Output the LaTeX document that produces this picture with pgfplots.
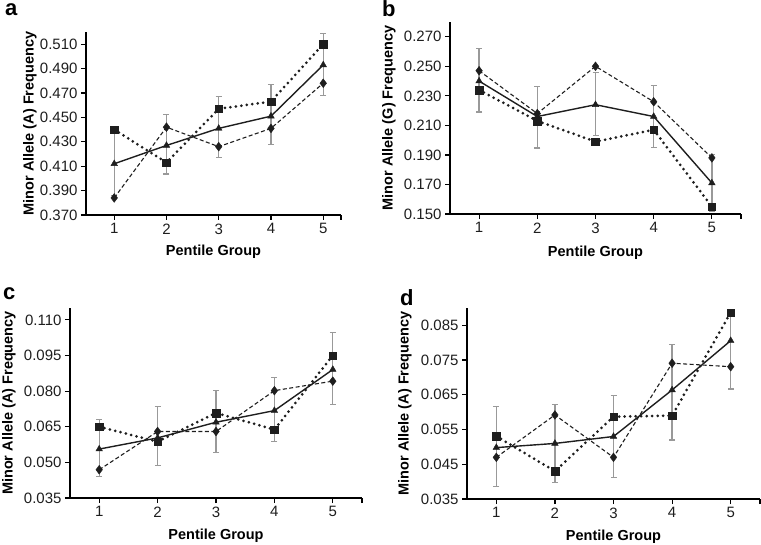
\documentclass[border=0pt]{standalone}
\usepackage{fontspec}
\setmainfont{Liberation Sans}
\usepackage{pgfplots}
\pgfplotsset{compat=1.18}
\definecolor{errgray}{HTML}{999999}
\definecolor{ln}{HTML}{1E1E1E}
\pgfplotsset{
  panel/.style={
    scale only axis, anchor=south west,
    axis lines=left, axis line style={-, line width=1.8pt, black},
    tick align=outside, major tick length=5pt,
    tick style={line width=1.2pt, black},
    xtick={1,2,3,4,5},
    scaled y ticks=false,
    ticklabel style={font=\fontsize{15}{17}\selectfont, text=ln},
    y tick label style={/pgf/number format/.cd, fixed, fixed zerofill, precision=3, assume math mode=true},
    x tick label style={/pgf/number format/assume math mode=true},
    xlabel={Pentile Group},
    xlabel style={font=\bfseries\fontsize{14.5}{16}\selectfont, at={(axis description cs:0.5,-0.2)}, anchor=center},
    ylabel style={font=\bfseries\fontsize{14.5}{16}\selectfont, anchor=center},
    clip=false,
  },
  errp/.style={draw=none, mark=none, forget plot,
    error bars/.cd, y dir=both, y explicit,
    error bar style={draw=errgray, line width=1.3pt, solid},
    error mark options={rotate=90, draw=errgray, mark size=3pt, line width=1.2pt}},
  sq/.style={ln, line width=3pt, dash pattern=on 0pt off 5.5pt, line cap=round,
    mark=square*, mark size=3.8pt, mark options={solid, fill=ln, draw=ln, line width=0.4pt}},
  di/.style={ln, line width=1.1pt, dash pattern=on 4pt off 2.5pt,
    mark=diamond*, mark size=4.4pt, mark options={solid, fill=ln, draw=ln, line width=0.4pt}},
  tr/.style={ln, line width=1.4pt, solid,
    mark=triangle*, mark size=3.8pt, mark options={solid, fill=ln, draw=ln, line width=0.4pt}},
}
\begin{document}
\begin{tikzpicture}
\useasboundingbox (0,0) rectangle (761pt,544pt);
% ---------- a ----------
\begin{axis}[panel, at={(86pt,329pt)}, width=255pt, height=183pt,
  xmin=0.46, xmax=5.34, ymin=0.370, ymax=0.520,
  ytick={0.370,0.390,0.410,0.430,0.450,0.470,0.490,0.510},
  extra x ticks={5.34}, extra x tick labels={},
  ylabel={Minor Allele (A) Frequency},
  ylabel style={at={(axis description cs:-0.22,0.5)}}]
\addplot[errp] coordinates {
 (1,0.412) += (0,0.028) -= (0,0.026)
 (2,0.427) += (0,0.0255) -= (0,0.0234)
 (3,0.441) += (0,0.026) -= (0,0.024)
 (4,0.451) += (0,0.026) -= (0,0.023)
 (5,0.493) += (0,0.026) -= (0,0.025)};
\addplot[sq] coordinates {(1,0.440)(2,0.413)(3,0.457)(4,0.463)(5,0.510)};
\addplot[di] coordinates {(1,0.384)(2,0.442)(3,0.426)(4,0.441)(5,0.478)};
\addplot[tr] coordinates {(1,0.412)(2,0.427)(3,0.441)(4,0.451)(5,0.493)};
\end{axis}
% ---------- b ----------
\begin{axis}[panel, at={(450pt,330pt)}, width=291pt, height=192pt,
  xmin=0.5, xmax=5.5, ymin=0.150, ymax=0.280,
  ytick={0.150,0.170,0.190,0.210,0.230,0.250,0.270},
  extra x ticks={5.5}, extra x tick labels={},
  ylabel={Minor Allele (G) Frequency},
  ylabel style={at={(axis description cs:-0.21,0.5)}}]
\addplot[errp] coordinates {
 (1,0.240) += (0,0.022) -= (0,0.021)
 (2,0.216) += (0,0.0205) -= (0,0.0213)
 (3,0.224) += (0,0.0216) -= (0,0.0207)
 (4,0.216) += (0,0.0208) -= (0,0.0209)
 (5,0.171) += (0,0.0195) -= (0,0.0195)};
\addplot[sq] coordinates {(1,0.234)(2,0.213)(3,0.199)(4,0.207)(5,0.155)};
\addplot[di] coordinates {(1,0.247)(2,0.218)(3,0.250)(4,0.226)(5,0.188)};
\addplot[tr] coordinates {(1,0.240)(2,0.216)(3,0.224)(4,0.216)(5,0.171)};
\end{axis}
% ---------- c ----------
\begin{axis}[panel, at={(70pt,46pt)}, width=292pt, height=190pt,
  xmin=0.5, xmax=5.5, ymin=0.035, ymax=0.115,
  ytick={0.035,0.050,0.065,0.080,0.095,0.110},
  extra x ticks={5.5}, extra x tick labels={},
  ylabel={Minor Allele (A) Frequency},
  ylabel style={at={(axis description cs:-0.209,0.5)}}]
\addplot[errp] coordinates {
 (1,0.0556) += (0,0.0123) -= (0,0.0116)
 (2,0.0603) += (0,0.0133) -= (0,0.0117)
 (3,0.0669) += (0,0.0133) -= (0,0.0129)
 (4,0.0718) += (0,0.0140) -= (0,0.0131)
 (5,0.0891) += (0,0.0157) -= (0,0.0148)};
\addplot[sq] coordinates {(1,0.0650)(2,0.0587)(3,0.0708)(4,0.0638)(5,0.0950)};
\addplot[di] coordinates {(1,0.0469)(2,0.0630)(3,0.0630)(4,0.0802)(5,0.0842)};
\addplot[tr] coordinates {(1,0.0556)(2,0.0603)(3,0.0669)(4,0.0718)(5,0.0891)};
\end{axis}
% ---------- d ----------
\begin{axis}[panel, at={(467pt,45pt)}, width=293pt, height=191pt,
  xmin=0.5, xmax=5.5, ymin=0.035, ymax=0.090,
  ytick={0.035,0.045,0.055,0.065,0.075,0.085},
  extra x ticks={5.5}, extra x tick labels={},
  ylabel={Minor Allele (A) Frequency},
  ylabel style={at={(axis description cs:-0.212,0.5)}}]
\addplot[errp] coordinates {
 (1,0.0498) += (0,0.0118) -= (0,0.0111)
 (2,0.0510) += (0,0.0113) -= (0,0.0113)
 (3,0.0530) += (0,0.0117) -= (0,0.0119)
 (4,0.0664) += (0,0.0131) -= (0,0.0144)
 (5,0.0806) += (0,0.0085) -= (0,0.0139)};
\addplot[sq] coordinates {(1,0.0531)(2,0.0430)(3,0.0587)(4,0.0590)(5,0.0887)};
\addplot[di] coordinates {(1,0.0470)(2,0.0592)(3,0.0470)(4,0.0741)(5,0.0731)};
\addplot[tr] coordinates {(1,0.0498)(2,0.0510)(3,0.0530)(4,0.0664)(5,0.0806)};
\end{axis}
% ---------- panel letters ----------
\begin{scope}[every node/.style={anchor=base west, inner sep=0pt, font=\bfseries\fontsize{22}{24}\selectfont}]
\node at (5pt,528pt) {a};
\node at (382pt,527pt) {b};
\node at (3pt,244pt) {c};
\node at (400pt,238pt) {d};
\end{scope}
\end{tikzpicture}
\end{document}
